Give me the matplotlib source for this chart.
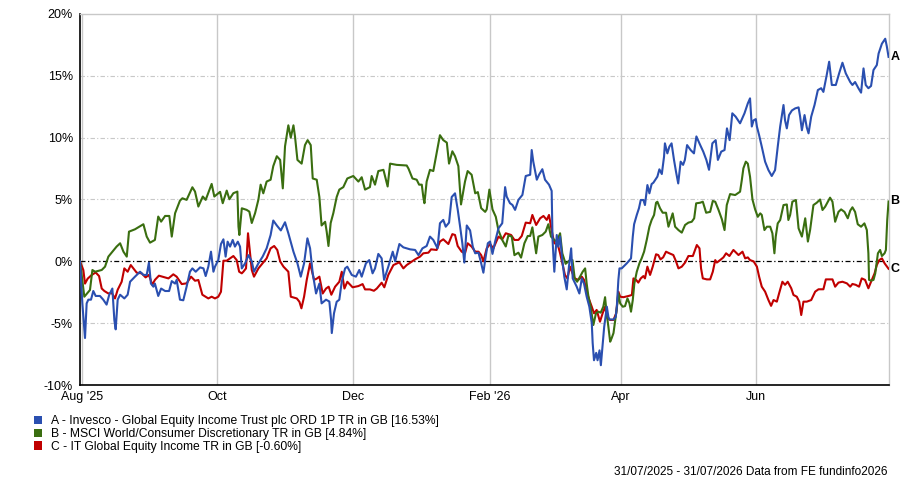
import matplotlib
matplotlib.use("Agg")
import matplotlib.pyplot as plt
import numpy as np
import pandas as pd
from matplotlib.patches import Patch

plt.rcParams['font.family'] = ['Liberation Sans', 'DejaVu Sans']

start = pd.Timestamp("2025-07-31")
end = pd.Timestamp("2026-07-31")

names = ["A - Invesco - Global Equity Income Trust plc ORD 1P TR in GB [16.53%]",
         "B - MSCI World/Consumer Discretionary TR in GB [4.84%]",
         "C - IT Global Equity Income TR in GB [-0.60%]"]
tags = ["A", "B", "C"]
colors = ["#2a4fb0", "#3a6e10", "#c00000"]

# days since 31/07/2025, cumulative total return in %
days_a = [0, 1.05, 1.95, 2.26, 3.0, 3.76, 4.96, 6.0, 7.07, 9.0, 10.5, 12.0, 13.2, 14.6, 15.5, 16.1, 17.0,
          18.1, 20.0, 21.5, 22.6, 24.8, 27.1, 28.6, 30.1, 31.1, 32.0, 33.1, 33.8, 35.3, 36.6, 38.4, 40.2,
          41.4, 42.9, 43.6, 45.1, 46.6, 48.1, 49.6, 50.7, 52.2, 54.2, 55.7, 56.7, 57.9, 59.1, 60.2, 60.9,
          62.4, 63.6, 64.7, 65.7, 66.6, 67.7, 68.9, 69.9, 71.2, 72.2, 73.0, 74.5, 76.0, 77.5, 78.5, 80.5,
          82.4, 84.2, 86.0, 87.2, 88.8, 90.6, 92.5, 94.0, 96.3, 98.1, 99.6, 101.1, 102.6, 103.8, 105.0,
          106.5, 108.0, 109.0, 111.0, 112.5, 113.3, 113.6, 114.6, 115.8, 117.0, 118.1, 119.6, 120.6,
          122.6, 124.5, 126.0, 127.1, 129.0, 130.5, 132.0, 133.1, 134.6, 136.1, 137.2, 139.1, 141.1,
          142.2, 144.1, 145.9, 148.9, 151.2, 152.7, 154.5, 156.4, 157.9, 159.4, 161.3, 162.4, 163.9,
          165.0, 166.5, 167.7, 169.2, 170.4, 171.5, 172.5, 173.4, 174.5, 176.0, 177.2, 178.3, 179.8,
          181.0, 182.0, 182.8, 184.0, 185.0, 186.1, 187.3, 188.8, 190.5, 191.8, 192.5, 194.0, 195.1,
          196.3, 197.8, 199.6, 201.1, 203.1, 203.8, 204.5, 206.1, 207.1, 208.6, 209.8, 211.6, 212.8,
          213.2, 214.0, 215.1, 215.8, 216.6, 217.6, 218.5, 219.6, 220.6, 221.6, 222.3, 223.4, 224.1,
          225.3, 226.4, 227.4, 228.6, 229.8, 230.9, 231.3, 231.9, 232.9, 233.5, 234.4, 235.0, 235.9,
          236.5, 237.7, 238.4, 238.9, 240.7, 241.7, 242.2, 242.9, 243.4, 244.4, 246.7, 248.6, 249.4,
          250.0, 251.2, 252.2, 253.0, 254.2, 254.9, 256.0, 256.9, 257.9, 258.7, 260.5, 261.4, 262.5,
          263.5, 263.9, 265.0, 265.9, 266.9, 268.0, 268.9, 269.9, 271.0, 272.1, 272.9, 273.9, 275.5,
          277.0, 278.1, 279.6, 281.2, 282.6, 283.8, 285.3, 286.8, 287.8, 289.3, 290.8, 291.9, 293.1,
          294.3, 295.8, 297.8, 299.8, 301.3, 302.3, 303.1, 303.9, 304.9, 305.4, 306.4, 307.6, 309.1,
          310.6, 312.1, 313.6, 314.8, 315.9, 317.4, 318.1, 318.9, 319.9, 321.2, 322.7, 324.2, 324.9,
          325.7, 326.9, 327.9, 328.7, 329.9, 331.4, 332.9, 334.4, 335.4, 336.9, 338.0, 339.2, 341.0,
          342.5, 344.0, 345.5, 347.5, 348.5, 349.7, 351.2, 352.4, 353.5, 354.5, 355.7, 356.9, 358.0,
          359.5, 360.3, 361.8, 363.3, 364.0, 364.8]
ret_a = [0, -3.4, -5.4, -6.2, -3.4, -3.1, -3.1, -2.4, -2.8, -2.8, -3.1, -3.5, -2.7, -2.2, -4.75, -5.5, -3.1,
         -2.7, -3.0, -2.7, -1.65, -1.24, -0.84, -1.1, -1.1, -0.1, -1.8, -2.05, -1.8, -2.8, -2.2, -2.4, -2.4,
         -1.6, -1.8, -1.5, -3.1, -3.15, -2.05, -0.84, -0.57, -0.84, -0.49, -0.57, -1.19, -0.43, 0.78, -0.84, -0.43,
         0.1, 1.4, 1.78, 0.38, 1.59, 1.19, 1.73, 1.19, 1.59, 1.19, -0.57, -0.16, 0.5, 0, -0.84, -0.16,
         0.38, 1.05, 2.13, 3.3, 2.9, 2.5, 3.16, 2.27, 0.78, -0.16, -1.24, -0.16, 1.86, 1.05, -0.97,
         -2.6, -1.8, -3.4, -3.1, -3.25, -4.75, -5.8, -4.2, -3.27, -3.1, -1.65, -0.57, -0.43,
         -1.1, -1.24, -0.7, -1.24, -0.16, 0.1, -0.97, -0.57, 0.6, 0.24, -1.5, -0.43, 0.78,
         0, 1.4, 1.13, 0.97, 0.92, 0.5, 1.05, 1.24, 2.0, 1.73, 1.05, 3.08, 3.35,
         2.8, 3.13, 5.2, 5.5, 4.2, 2.8, 1.46, -0.1, 2.9, 2.5, 1.2, 0.65, 0.7,
         -0.16, -0.92, 0.1, 1.46, 1.6, 0.6, 1.6, 2.67, 3.08, 6.0, 5.24, 4.7, 4.56,
         4.16, 4.97, 5.37, 6.9, 7.0, 9.0, 8.07, 6.6, 7.0, 7.45, 6.6, 6.2, 5.7,
         1.73, -0.84, 2.13, 1.19, 2.0, 0.1, -1.24, -2.27, -0.43, 1.05, -1.38, -1.8, -2.05,
         -2.6, -1.38, -1.8, -2.86, -3.67, -5.0, -6.6, -8.0, -7.4, -8.0, -7.2, -8.4, -6.6,
         -5.3, -3.67, -4.5, -4.7, -4.7, -4.5, -3.67, -1.5, -0.57, -0.57, -0.16, 0.24, 2.0,
         3.0, 3.75, 4.3, 4.96, 4.96, 4.55, 6.17, 5.5, 6.25, 6.36, 6.85, 7.44, 7.06,
         8.46, 9.54, 8.73, 9.27, 9.54, 8.2, 7.25, 6.3, 8.06, 7.8, 8.2, 9.4, 9.0,
         8.73, 10.1, 9.49, 8.87, 8.2, 7.4, 9.54, 9.8, 8.2, 8.87, 9.0, 10.75, 9.8,
         11.97, 11.7, 11.16, 11.97, 12.77, 13.18, 10.9, 11.4, 11.5, 10.9, 10.2, 9.27, 8.06,
         7.38, 6.9, 7.38, 9.27, 10.9, 12.64, 11.4, 10.75, 11.83, 12.2, 12.37, 12.45, 11.7,
         10.6, 11.83, 10.83, 10.35, 11.7, 12.64, 13.85, 14.0, 13.7, 15.07, 16.14, 14.26, 14.26,
         15.2, 16.06, 15.2, 14.5, 14.26, 14.5, 14.0, 13.64, 15.6, 14.26, 14.0, 14.18, 15.47,
         15.87, 16.8, 17.6, 18.0, 17.4, 16.53]

days_b = [0, 1.95, 4.5, 5.6, 6.8, 9.8, 11.3, 12.8, 16.5, 18.1, 19.6, 21.1, 22.1, 24.8, 28.6, 30.1, 31.6,
          33.8, 35.3, 36.6, 38.4, 40.3, 41.4, 42.9, 45.1, 46.2, 48.1, 50.7, 51.9, 53.4, 55.4, 56.7, 59.4,
          60.6, 63.2, 64.4, 66.2, 67.4, 69.2, 71.0, 71.5, 71.9, 73.0, 75.2, 76.4, 77.5, 79.0, 80.5, 81.5,
          82.7, 84.2, 86.0, 87.2, 88.8, 90.3, 91.5, 92.5, 94.0, 95.1, 96.3, 97.0, 98.1, 100.0, 101.5,
          102.7, 104.1, 105.0, 106.8, 108.0, 109.0, 110.6, 111.3, 112.1, 113.1, 114.3, 115.8, 117.0,
          118.8, 120.6, 123.3, 125.6, 127.1, 128.6, 130.8, 131.6, 133.1, 134.6, 136.9, 138.8, 139.9,
          142.9, 147.4, 148.2, 150.0, 151.9, 153.0, 154.2, 154.9, 155.4, 156.4, 157.9, 159.4, 160.9,
          162.4, 163.9, 165.5, 166.5, 168.0, 169.2, 170.7, 171.9, 173.7, 174.9, 176.7, 178.3, 179.5,
          181.0, 182.8, 183.5, 184.7, 186.1, 187.6, 188.8, 190.5, 192.1, 193.3, 194.8, 196.0, 197.8,
          199.0, 200.5, 202.0, 203.1, 204.1, 205.8, 206.8, 208.6, 210.1, 211.3, 212.5, 214.0, 215.1,
          216.6, 217.6, 219.1, 221.1, 222.2, 223.2, 224.3, 225.6, 226.8, 227.9, 228.6, 229.4, 230.4,
          231.6, 232.8, 233.9, 234.9, 236.1, 236.9, 237.6, 238.4, 239.2, 239.9, 240.7, 241.4, 242.2,
          242.9, 243.7, 244.9, 245.9, 247.0, 247.9, 248.6, 249.4, 250.1, 251.2, 252.4, 253.4, 254.5,
          255.7, 256.9, 257.9, 259.0, 259.9, 260.5, 261.7, 262.9, 264.4, 265.5, 266.2, 267.4, 268.5,
          270.0, 271.5, 273.0, 274.5, 276.0, 277.1, 278.0, 279.8, 281.0, 282.5, 284.3, 285.5, 286.6,
          288.1, 289.6, 290.8, 291.8, 293.3, 295.6, 297.8, 298.6, 299.3, 300.4, 301.3, 302.3, 303.4,
          304.6, 305.8, 306.9, 307.6, 308.8, 309.9, 311.4, 312.4, 313.3, 313.9, 314.8, 315.9, 317.4,
          318.9, 319.6, 320.4, 321.4, 323.0, 324.2, 325.7, 327.2, 328.4, 329.4, 330.9, 332.4, 333.9,
          335.0, 336.2, 337.4, 338.4, 339.5, 340.7, 342.2, 343.4, 344.9, 346.4, 347.5, 348.5, 349.7,
          350.9, 352.4, 353.9, 355.0, 355.7, 356.0, 356.9, 358.0, 358.8, 360.0, 361.0, 361.8, 363.0,
          363.6, 364.2, 364.8]
ret_b = [0, -2.86, -2.32, -0.70, -0.84, -0.70, -0.43, 0.38, 1.19, 1.46, 0.78, 0.38, 2.40, 2.59, 3.00, 2.00, 1.51,
         1.73, 3.62, 3.21, 3.67, 3.67, 2.00, 3.89, 4.91, 5.10, 4.97, 5.99, 5.64, 4.43, 5.24, 4.97, 6.26,
         5.24, 5.62, 4.70, 5.72, 5.02, 5.51, 5.64, 2.81, 2.13, 4.29, 4.16, 4.02, 3.1, 3.9, 5.0, 6.2,
         5.5, 6.45, 6.6, 7.7, 8.5, 8.2, 5.9, 9.3, 11.0, 10.0, 11.0, 10.1, 8.2, 7.9, 9.4,
         9.8, 9.4, 6.7, 6.6, 5.2, 2.9, 3.2, 2.4, 1.24, 3.1, 3.9, 5.2, 5.8,
         6.0, 6.7, 6.9, 6.45, 6.8, 5.8, 6.0, 6.9, 6.2, 7.3, 7.4, 6.05, 7.9,
         7.8, 7.75, 7.5, 6.7, 6.6, 6.2, 6.2, 5.2, 4.7, 6.45, 7.4, 7.3, 8.75,
         10.2, 9.8, 9.6, 7.9, 8.9, 8.5, 7.7, 4.6, 6.45, 7.3, 7.0, 5.5, 5.6,
         4.3, 4.0, 4.2, 5.8, 4.2, 3.6, 2.5, 1.73, 1.2, 2.1, 2.0, 0.5, 0.7,
         0.3, 1.46, 2.05, 2.05, 2.75, 0.65, 2.0, 2.13, 2.4, 3.0, 2.0, 1.73, 1.6,
         2.27, 0.65, -0.2, 0.1, 0.1, -1.38, -1.65, -1.24, -0.84, -0.57, -1.8, -2.86, -3.67,
         -5.15, -4.2, -4.07, -4.15, -3.67, -2.9, -4.2, -5.3, -6.5, -6.2, -5.8, -4.88, -3.8,
         -2.6, -3.4, -3.67, -3.62, -3.0, -3.4, -4.07, -3.13, -1.8, -0.84, -0.16, 0.24, 0.78,
         1.73, 2.8, 3.34, 3.75, 4.74, 4.82, 4.29, 3.93, 3.93, 2.8, 3.2, 3.88, 2.8,
         2.53, 2.32, 2.94, 3.13, 3.2, 3.48, 4.69, 4.74, 4.82, 3.93, 4.0, 4.88, 4.82,
         4.15, 3.4, 2.53, 4.55, 5.44, 5.36, 5.63, 6.58, 7.52, 8.06, 7.9, 6.85, 5.0,
         4.2, 3.6, 3.88, 3.75, 2.53, 2.8, 2.8, 2.26, 0.65, 2.0, 3.07, 3.34, 4.55,
         4.6, 3.34, 3.75, 4.82, 4.96, 2.67, 2.0, 3.48, 1.6, 2.53, 4.55, 4.74, 5.0,
         4.15, 4.42, 4.82, 5.15, 4.82, 3.2, 4.0, 4.2, 4.0, 3.48, 4.1, 4.37, 4.0,
         3.0, 2.8, 3.07, 2.53, 0.65, -1.5, -1.56, -1.5, -0.97, 0.65, 0.92, 0.43, 0.65,
         0.92, 3.34, 4.84]

days_c = [0, 1.5, 2.26, 3.46, 5.3, 7.07, 8.6, 9.8, 11.0, 12.8, 14.3, 15.8, 17.0, 18.8, 20.0, 21.5, 22.9,
          25.6, 27.8, 29.6, 31.1, 32.6, 33.8, 35.6, 38.4, 39.9, 42.1, 43.6, 45.9, 48.1, 50.1, 51.9, 53.4,
          55.2, 57.9, 59.4, 60.9, 62.4, 63.6, 64.7, 66.2, 67.7, 69.2, 70.7, 71.8, 73.0, 73.7, 74.9, 75.8,
          76.7, 77.5, 78.5, 80.5, 82.4, 84.2, 86.0, 87.6, 89.0, 90.3, 91.8, 94.0, 95.1, 97.8, 99.0, 99.9,
          101.1, 102.3, 103.8, 105.6, 106.8, 108.0, 109.5, 111.0, 112.2, 113.4, 115.1, 117.0, 118.1,
          119.3, 120.6, 123.0, 125.6, 127.5, 128.6, 130.8, 132.6, 133.9, 136.1, 137.3, 139.1, 141.4,
          144.1, 145.9, 147.4, 151.2, 153.4, 154.9, 157.2, 158.4, 160.9, 162.4, 163.9, 166.2, 168.0,
          169.2, 170.4, 172.2, 173.7, 174.9, 176.7, 178.3, 179.8, 181.0, 182.0, 183.5, 185.0, 186.5,
          188.8, 190.5, 192.1, 194.5, 196.0, 197.8, 199.3, 201.1, 203.1, 204.1, 205.8, 207.6, 209.1,
          210.6, 211.6, 212.8, 214.0, 215.5, 216.6, 217.6, 218.8, 219.9, 221.1, 222.2, 223.2, 224.8,
          226.4, 227.4, 228.6, 229.8, 230.9, 231.9, 233.1, 234.6, 235.8, 236.9, 237.9, 239.2, 240.7,
          241.9, 242.9, 243.7, 245.2, 247.5, 249.0, 249.7, 250.9, 251.9, 253.0, 254.2, 254.9, 256.0,
          257.2, 258.4, 259.9, 260.9, 261.9, 263.1, 264.4, 265.9, 267.7, 268.9, 270.0, 271.5, 273.0,
          274.5, 276.5, 277.5, 278.3, 279.5, 280.2, 281.0, 282.8, 284.3, 285.5, 286.6, 287.3, 288.8,
          290.3, 291.5, 293.0, 294.8, 296.3, 297.1, 298.9, 300.1, 301.3, 302.3, 303.9, 305.4, 306.4,
          307.6, 309.1, 310.6, 311.8, 312.9, 314.4, 315.4, 316.9, 318.1, 319.3, 320.9, 321.9, 323.4,
          324.5, 325.4, 326.4, 327.9, 329.9, 331.7, 333.2, 335.4, 336.5, 339.5, 340.7, 342.2, 344.0,
          346.0, 347.5, 348.5, 350.0, 351.5, 352.7, 354.2, 355.7, 356.9, 358.5, 359.5, 360.6, 361.8,
          363.0, 364.8]
ret_c = [0, -0.7, -1.8, -1.4, -1.1, -0.9, -1.19, -2.2, -2.4, -2.6, -2.55, -3.0, -2.3, -1.65, -0.57, -0.84, -0.3,
         -0.92, -0.97, -1.3, -1.1, -1.9, -1.5, -1.16, -1.3, -1.38, -1.05, -1.24, -1.84, -1.78, -1.24, -1.57, -1.51,
         -2.7, -3.0, -2.86, -3.0, -2.86, -2.46, 0.05, 0.05, 0.24, 0.43, 0.1, -0.84, -0.97, -0.84, -0.57, 2.27,
         0.65, -0.7, -1.24, -0.57, -0.16, 0.24, 1.05, 1.24, 0.92, 0, -0.43, -0.84, -2.86, -3.0, -3.27, -3.8,
         -2.86, -1.5, -0.16, -1.5, -1.4, -1.24, -2.6, -2.2, -2.05, -2.7, -2.05, -1.65, -0.84,
         -2.2, -1.65, -2.1, -2.0, -1.84, -2.27, -2.27, -2.38, -2.2, -1.73, -2.1, -1.1, -0.3,
         -0.08, -0.57, -0.3, 0.16, 0.38, 0.65, 0.7, 0.97, 0.92, 1.6, 1.78, 1.4, 2.2,
         2.13, 1.24, 0.78, 0.65, 1.46, 1.19, 0.78, 0.78, 0.5, 0, 1.05, 1.4, 1.05,
         2.0, 1.78, 2.27, 2.13, 1.73, 1.73, 2.05, 3.13, 3.08, 3.75, 2.94, 3.48, 3.67,
         3.35, 3.75, 2.5, 1.46, 1.4, 0.65, -0.16, -1.1, -1.38, -0.43, -0.97, -1.38, -1.5,
         -1.24, -1.5, -2.45, -3.13, -3.67, -4.2, -3.93, -4.88, -4.2, -3.67, -4.6, -4.74, -4.74,
         -4.2, -2.45, -2.86, -2.9, -2.8, -2.72, -1.38, -1.5, -1.72, -1.38, -1.19, -1.38, -0.43,
         -1.1, -0.43, 0.57, 0.51, 0.16, 0.32, 0.78, 0.65, 0.51, 0, -0.57, -0.43, -0.1,
         0.43, 0.43, 0.92, 1.32, 1.05, -0.57, -1.38, -1.46, -1.46, -0.84, 0.1, -0.1, 0.1,
         0.32, 0.65, 0.43, 0.92, 0.65, 0.51, 0.78, 0.24, 0.32, 0.1, 0, -0.43, -1.24,
         -2.05, -2.45, -3.13, -3.6, -3.13, -3.26, -2.6, -1.65, -1.9, -1.65, -2.18, -2.72, -2.86,
         -3.26, -4.34, -3.26, -3.26, -3.13, -2.45, -2.26, -2.26, -1.46, -1.46, -2.05, -1.72, -1.65,
         -1.78, -2.05, -1.83, -1.9, -2.05, -1.38, -1.5, -2.18, -1.65, -0.97, -0.3, 0.1, 0.24,
         -0.16, -0.60]

tick_dates = ["2025-08-01", "2025-10-01", "2025-12-01", "2026-02-01", "2026-04-01", "2026-06-01"]
tick_labels = ["Aug '25", "Oct", "Dec", "Feb '26", "Apr", "Jun"]
y_ticks = [-10, -5, 0, 5, 10, 15, 20]

fig = plt.figure(figsize=(9, 4.84), dpi=100)
ax = fig.add_axes([80 / 900, 1 - 385 / 484, 809 / 900, 371 / 484])

grid_col = "#c8c8c8"
for d in tick_dates:
    ax.axvline(pd.Timestamp(d), color=grid_col, lw=1, zorder=1)
for v in [-5, 5, 10, 15]:
    ax.axhline(v, color=grid_col, lw=0.8, ls=(0, (4, 2, 1, 2)), zorder=1)
ax.axhline(0, color="black", lw=0.9, ls=(0, (4, 2, 1, 2)), zorder=2)

series = [(days_a, ret_a), (days_b, ret_b), (days_c, ret_c)]
# draw C first, then B, then A on top
for i in [2, 1, 0]:
    d, r = series[i]
    x = start + pd.to_timedelta(np.array(d), unit="D")
    ax.plot(x, r, color=colors[i], lw=1.5, zorder=3 + (2 - i))
    ax.text(1.002, r[-1], tags[i], transform=ax.get_yaxis_transform(),
            ha="left", va="center", fontsize=9, fontweight="bold", color="black")

ax.set_xlim(start, end)
ax.set_ylim(-10, 20)
ax.set_xticks([pd.Timestamp(d) for d in tick_dates])
ax.set_xticklabels(tick_labels)
ax.set_yticks(y_ticks)
ax.set_yticklabels([f"{v}%" for v in y_ticks])
ax.tick_params(axis="both", length=0, labelsize=9, colors="black")
ax.tick_params(axis="y", pad=5)
ax.tick_params(axis="x", pad=4)

for s in ["top", "right"]:
    ax.spines[s].set_color(grid_col)
    ax.spines[s].set_linewidth(1)
for s in ["left", "bottom"]:
    ax.spines[s].set_color("black")
    ax.spines[s].set_linewidth(1.2)

handles = [Patch(facecolor=c, edgecolor="none") for c in colors]
fig.legend(handles, names, loc="upper left", bbox_to_anchor=(34 / 900, 1 - 415 / 484),
           frameon=False, fontsize=8.7, handlelength=0.7, handleheight=0.7,
           handletextpad=0.7, labelspacing=0.08, borderpad=0, borderaxespad=0)

fig.text(887 / 900, 1 - 472 / 484, "31/07/2025 - 31/07/2026 Data from FE fundinfo2026",
         ha="right", va="center", fontsize=8.5)

fig.savefig("out.png", dpi=100)
